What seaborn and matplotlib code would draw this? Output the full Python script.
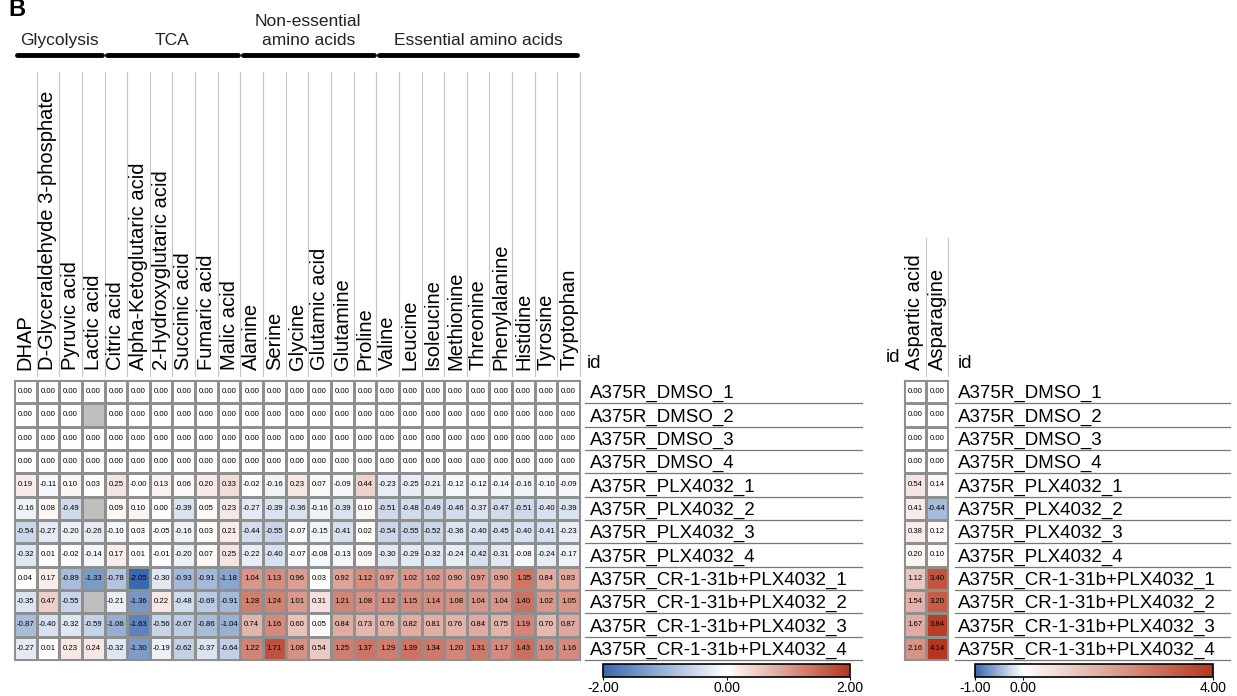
import numpy as np
import pandas as pd
import matplotlib
matplotlib.use('Agg')
import matplotlib.pyplot as plt
import matplotlib.transforms as mtransforms
from matplotlib.colors import LinearSegmentedColormap, Normalize
from matplotlib.cm import ScalarMappable
import seaborn as sns

plt.rcParams['font.family'] = ['Liberation Sans', 'DejaVu Sans']

# Row / column names
samples = ['A375R_DMSO_1', 'A375R_DMSO_2', 'A375R_DMSO_3', 'A375R_DMSO_4',
           'A375R_PLX4032_1', 'A375R_PLX4032_2', 'A375R_PLX4032_3', 'A375R_PLX4032_4',
           'A375R_CR-1-31b+PLX4032_1', 'A375R_CR-1-31b+PLX4032_2',
           'A375R_CR-1-31b+PLX4032_3', 'A375R_CR-1-31b+PLX4032_4']
metabolites = ['DHAP', 'D-Glyceraldehyde 3-phosphate', 'Pyruvic acid', 'Lactic acid',
               'Citric acid', 'Alpha-Ketoglutaric acid', '2-Hydroxyglutaric acid',
               'Succinic acid', 'Fumaric acid', 'Malic acid',
               'Alanine', 'Serine', 'Glycine', 'Glutamic acid', 'Glutamine', 'Proline',
               'Valine', 'Leucine', 'Isoleucine', 'Methionine', 'Threonine',
               'Phenylalanine', 'Histidine', 'Tyrosine', 'Tryptophan']
groups = ['Glycolysis', 'TCA', 'Non-essential\namino acids', 'Essential amino acids']
group_sizes = [4, 6, 6, 9]

nan = np.nan
# log fold change values, one list per sample
values = [
    [0.00] * 25,
    [0.00, 0.00, 0.00, nan] + [0.00] * 21,
    [0.00] * 25,
    [0.00] * 25,
    [0.19, -0.11, 0.10, 0.03, 0.25, -0.0, 0.13, 0.06, 0.20, 0.33, -0.02, -0.16, 0.23,
     0.07, -0.09, 0.44, -0.23, -0.25, -0.21, -0.12, -0.12, -0.14, -0.16, -0.10, -0.09],
    [-0.16, 0.08, -0.49, nan, 0.09, 0.10, 0.00, -0.39, 0.05, 0.23, -0.27, -0.39, -0.36,
     -0.16, -0.39, 0.10, -0.51, -0.48, -0.49, -0.46, -0.37, -0.47, -0.51, -0.40, -0.39],
    [-0.54, -0.27, -0.20, -0.26, -0.10, 0.03, -0.05, -0.16, 0.03, 0.21, -0.44, -0.55, -0.07,
     -0.15, -0.41, 0.02, -0.54, -0.55, -0.52, -0.36, -0.40, -0.45, -0.40, -0.41, -0.23],
    [-0.32, 0.01, -0.02, -0.14, 0.17, 0.01, -0.01, -0.20, 0.07, 0.25, -0.22, -0.40, -0.07,
     -0.08, -0.13, 0.09, -0.30, -0.29, -0.32, -0.24, -0.42, -0.31, -0.08, -0.24, -0.17],
    [0.04, 0.17, -0.89, -1.33, -0.78, -2.05, -0.30, -0.93, -0.91, -1.18, 1.04, 1.13, 0.96,
     0.03, 0.92, 1.12, 0.97, 1.02, 1.02, 0.90, 0.97, 0.90, 1.35, 0.84, 0.83],
    [-0.35, 0.47, -0.55, nan, -0.21, -1.36, 0.22, -0.48, -0.69, -0.91, 1.28, 1.24, 1.01,
     0.31, 1.21, 1.08, 1.12, 1.15, 1.14, 1.08, 1.04, 1.04, 1.40, 1.02, 1.05],
    [-0.87, -0.40, -0.32, -0.59, -1.06, -1.63, -0.56, -0.67, -0.86, -1.04, 0.74, 1.16, 0.60,
     0.05, 0.84, 0.73, 0.76, 0.82, 0.81, 0.76, 0.84, 0.75, 1.19, 0.70, 0.87],
    [-0.27, 0.01, 0.23, 0.24, -0.32, -1.30, -0.19, -0.62, -0.37, -0.64, 1.22, 1.71, 1.08,
     0.54, 1.25, 1.37, 1.29, 1.39, 1.34, 1.20, 1.31, 1.17, 1.43, 1.16, 1.16],
]

extra_metabolites = ['Aspartic acid', 'Asparagine']
aspartic = [0.00, 0.00, 0.00, 0.00, 0.54, 0.41, 0.38, 0.20, 1.12, 1.54, 1.67, 2.16]
asparagine = [0.00, 0.00, 0.00, 0.00, 0.14, -0.44, 0.12, 0.10, 3.40, 3.20, 3.84, 4.14]

df = pd.DataFrame(values, index=samples, columns=metabolites)
df_extra = pd.DataFrame({'Aspartic acid': aspartic, 'Asparagine': asparagine}, index=samples)

blue, red = '#3a68ad', '#b5361e'
cmap_main = LinearSegmentedColormap.from_list('bwr_main', [blue, 'white', red])
cmap_extra = LinearSegmentedColormap.from_list('bwr_extra', [(0, blue), (0.2, 'white'), (1, red)])

W, H = 1237, 696
fig = plt.figure(figsize=(W / 100, H / 100), dpi=100)


def box(x0, y0, x1, y1):
    return [x0 / W, 1 - y1 / H, (x1 - x0) / W, (y1 - y0) / H]


def draw_heat(ax, data, cmap, vmin, vmax, label_top):
    ax.set_facecolor('#bfbfbf')
    sns.heatmap(data, ax=ax, cmap=cmap, vmin=vmin, vmax=vmax, annot=True, fmt='.2f',
                annot_kws={'size': 5.6, 'color': 'black'}, linewidths=0.8,
                linecolor='#8f8f8f', cbar=False)
    ax.xaxis.tick_top()
    ax.set_xticklabels(data.columns, rotation=90, fontsize=14.5)
    ax.yaxis.tick_right()
    ax.set_yticklabels(data.index, rotation=0, fontsize=13.5)
    ax.tick_params(axis='both', length=0, pad=7)
    ax.set_xlabel('')
    ax.set_ylabel('')
    for s in ax.spines.values():
        s.set_visible(True)
        s.set_color('#8f8f8f')
        s.set_linewidth(0.8)
    # separators between the column labels
    vtrans = mtransforms.blended_transform_factory(ax.transData, fig.transFigure)
    for j in range(1, data.shape[1] + 1):
        ax.plot([j, j], [1 - 376 / H, 1 - label_top / H], transform=vtrans, color='#c4c4c4',
                lw=0.8, clip_on=False, zorder=0)


# main heatmap
ax = fig.add_axes(box(14, 380, 580, 660))
draw_heat(ax, df, cmap_main, -2, 2, 72)

trans = mtransforms.blended_transform_factory(fig.transFigure, ax.transData)
for i in range(1, len(samples) + 1):
    ax.plot([585 / W, 862 / W], [i, i], transform=trans, color='#777777', lw=0.9, clip_on=False)

# group headers
gtrans = mtransforms.blended_transform_factory(ax.transData, fig.transFigure)
bounds = np.cumsum([0] + group_sizes)
for name, b0, b1 in zip(groups, bounds[:-1], bounds[1:]):
    ax.plot([b0 + 0.12, b1 - 0.12], [1 - 55 / H, 1 - 55 / H], transform=gtrans,
            color='black', lw=3.5, solid_capstyle='round', clip_on=False)
    ax.text((b0 + b1) / 2, 1 - 48 / H, name, transform=gtrans, ha='center', va='bottom',
            fontsize=12.5, color='#222222', linespacing=1.3)

fig.text(8 / W, 1 - 16 / H, 'B', fontsize=17, fontweight='bold', va='baseline')
fig.text(587 / W, 1 - 368 / H, 'id', fontsize=13.5, va='baseline')

# second heatmap
ax2 = fig.add_axes(box(904, 380, 948, 660))
draw_heat(ax2, df_extra, cmap_extra, -1, 4, 238)
trans2 = mtransforms.blended_transform_factory(fig.transFigure, ax2.transData)
for i in range(1, len(samples) + 1):
    ax2.plot([955 / W, 1230 / W], [i, i], transform=trans2, color='#777777', lw=0.9, clip_on=False)
fig.text(886 / W, 1 - 362 / H, 'id', fontsize=13.5, va='baseline')
fig.text(958 / W, 1 - 368 / H, 'id', fontsize=13.5, va='baseline')

# colorbars
cax1 = fig.add_axes(box(603, 664, 850, 677))
cb1 = fig.colorbar(ScalarMappable(Normalize(-2, 2), cmap_main), cax=cax1,
                   orientation='horizontal', ticks=[-2, 0, 2], format='%.2f')
cax2 = fig.add_axes(box(975, 664, 1213, 677))
cb2 = fig.colorbar(ScalarMappable(Normalize(-1, 4), cmap_extra), cax=cax2,
                   orientation='horizontal', ticks=[-1, 0, 4], format='%.2f')
for cb in (cb1, cb2):
    cb.outline.set_edgecolor('black')
    cb.outline.set_linewidth(1.2)
    cb.ax.tick_params(labelsize=10, length=2, pad=1)

fig.savefig('out.png', dpi=100)
